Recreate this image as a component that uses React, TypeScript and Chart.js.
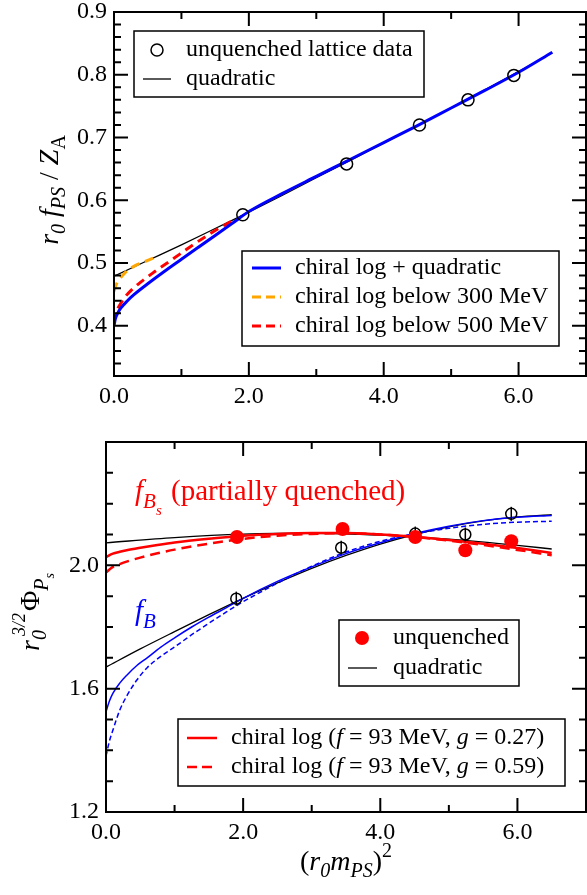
import React, { useEffect, useRef } from 'react';
import { Chart, registerables } from 'chart.js';
Chart.register(...registerables);

const FONT = '"Liberation Serif", "DejaVu Serif", serif';

// ---------- Top panel data ----------
const topTickX = [0, 2, 4, 6];
const topTickY = [0.4, 0.5, 0.6, 0.7, 0.8, 0.9];
const topPointsX = [1.91, 3.45, 4.53, 5.25, 5.93];
const topPointsY = [0.577, 0.658, 0.720, 0.760, 0.799];
const topBlueX = [0, 0.02, 0.05, 0.1, 0.2, 0.3, 0.5, 0.75, 1.0, 1.25, 1.5, 1.75, 2.0, 2.5, 3.0, 3.5, 4.0, 4.5, 5.0, 5.5, 6.0, 6.5];
const topBlueY = [0.400, 0.411, 0.419, 0.428, 0.440, 0.450, 0.467, 0.487, 0.506, 0.525, 0.544, 0.563, 0.582, 0.611, 0.638, 0.665, 0.692, 0.719, 0.747, 0.775, 0.804, 0.836];
const topQuadX = [0, 0.5, 1.0, 1.5, 2.0, 2.5, 3.0, 3.5, 4.0, 4.5, 5.0, 5.5, 6.0, 6.5];
const topQuadY = [0.479, 0.504, 0.529, 0.555, 0.581, 0.608, 0.636, 0.663, 0.691, 0.719, 0.747, 0.776, 0.805, 0.835];
const top300X = [0, 0.03, 0.08, 0.15, 0.25, 0.35, 0.45, 0.58];
const top300Y = [0.455, 0.465, 0.474, 0.483, 0.492, 0.498, 0.502, 0.508];
const top500X = [0, 0.03, 0.08, 0.15, 0.25, 0.4, 0.6, 0.8, 1.0, 1.2, 1.4, 1.6, 1.75];
const top500Y = [0.405, 0.421, 0.432, 0.444, 0.456, 0.470, 0.486, 0.501, 0.516, 0.531, 0.545, 0.558, 0.567];

// ---------- Bottom panel data ----------
const botTickX = [0, 2, 4, 6];
const botTickY = [1.2, 1.6, 2.0];
const botOpenX = [1.90, 3.43, 4.51, 5.24, 5.91];
const botOpenY = [1.892, 2.057, 2.103, 2.100, 2.167];
const botRedX = [1.91, 3.45, 4.51, 5.24, 5.91];
const botRedY = [2.092, 2.118, 2.092, 2.049, 2.078];
const botRedCurveX = [0, 0.1, 0.2, 0.3, 0.5, 0.75, 1.0, 1.5, 2.0, 2.5, 3.0, 3.5, 4.0, 4.5, 5.0, 5.5, 6.0, 6.5];
const botRedSolidY = [2.027, 2.038, 2.044, 2.049, 2.057, 2.066, 2.074, 2.086, 2.096, 2.102, 2.105, 2.105, 2.100, 2.093, 2.082, 2.070, 2.056, 2.040];
const botRedDashY = [1.977, 1.995, 2.004, 2.012, 2.025, 2.039, 2.051, 2.070, 2.086, 2.096, 2.102, 2.104, 2.100, 2.092, 2.080, 2.066, 2.050, 2.033];
const botQuadBsX = [0, 1, 2, 3, 4, 5, 6, 6.5];
const botQuadBsY = [2.073, 2.090, 2.101, 2.104, 2.098, 2.085, 2.065, 2.053];
const botQuadBX = [0, 0.5, 1.0, 1.5, 2.0, 2.5, 3.0, 3.5, 4.0, 4.5, 5.0, 5.5, 6.0, 6.5];
const botQuadBY = [1.670, 1.729, 1.785, 1.840, 1.893, 1.943, 1.990, 2.032, 2.069, 2.100, 2.125, 2.144, 2.157, 2.164];
const botBlueX = [0, 0.05, 0.1, 0.2, 0.3, 0.45, 0.6, 0.8, 1.0, 1.25, 1.5, 1.75, 2.0, 2.5, 3.0, 3.5, 4.0, 4.5, 5.0, 5.5, 6.0, 6.5];
const botBlueSolidY = [1.525, 1.560, 1.585, 1.618, 1.643, 1.675, 1.700, 1.735, 1.765, 1.800, 1.832, 1.862, 1.893, 1.948, 1.995, 2.038, 2.073, 2.103, 2.127, 2.145, 2.156, 2.162];
const botBlueDashY = [1.381, 1.430, 1.465, 1.530, 1.575, 1.628, 1.668, 1.705, 1.735, 1.775, 1.812, 1.848, 1.882, 1.942, 1.997, 2.043, 2.078, 2.102, 2.120, 2.133, 2.140, 2.143];

const zip = (xs: number[], ys: number[]) => xs.map((x, i) => ({ x, y: ys[i] }));

type Seg = { t: string; size: number; italic?: boolean; dy?: number; dx?: number; color?: string };

function segFont(s: Seg) {
  return `${s.italic ? 'italic ' : ''}${s.size}px ${FONT}`;
}
function richWidth(ctx: CanvasRenderingContext2D, segs: Seg[]) {
  let w = 0;
  for (const s of segs) {
    ctx.font = segFont(s);
    w += ctx.measureText(s.t).width + (s.dx || 0);
  }
  return w;
}
function drawRich(ctx: CanvasRenderingContext2D, segs: Seg[], x: number, y: number, align: 'left' | 'center', baseline: CanvasTextBaseline = 'alphabetic') {
  let cx = align === 'center' ? x - richWidth(ctx, segs) / 2 : x;
  ctx.textAlign = 'left';
  ctx.textBaseline = baseline;
  for (const s of segs) {
    ctx.font = segFont(s);
    ctx.fillStyle = s.color || '#000';
    cx += s.dx || 0;
    ctx.fillText(s.t, cx, y + (s.dy || 0));
    cx += ctx.measureText(s.t).width;
  }
}

type Marker =
  | { kind: 'circle'; x: number }
  | { kind: 'dot'; x: number; color: string }
  | { kind: 'line'; x1: number; x2: number; color: string; width: number; dash?: number[] };
type Row = { y: number; marker: Marker; textX: number; text: Seg[] };
type LegendBox = { l: number; t: number; r: number; b: number; rows: Row[] };

function drawLegend(ctx: CanvasRenderingContext2D, lg: LegendBox) {
  ctx.save();
  ctx.fillStyle = '#fff';
  ctx.fillRect(lg.l, lg.t, lg.r - lg.l, lg.b - lg.t);
  ctx.strokeStyle = '#000';
  ctx.lineWidth = 1.5;
  ctx.setLineDash([]);
  ctx.strokeRect(lg.l, lg.t, lg.r - lg.l, lg.b - lg.t);
  for (const row of lg.rows) {
    const m = row.marker;
    ctx.setLineDash([]);
    if (m.kind === 'circle') {
      ctx.beginPath();
      ctx.arc(m.x, row.y, 6, 0, Math.PI * 2);
      ctx.lineWidth = 1.5;
      ctx.strokeStyle = '#000';
      ctx.stroke();
    } else if (m.kind === 'dot') {
      ctx.beginPath();
      ctx.arc(m.x, row.y, 7, 0, Math.PI * 2);
      ctx.fillStyle = m.color;
      ctx.fill();
    } else {
      ctx.beginPath();
      ctx.setLineDash(m.dash || []);
      ctx.moveTo(m.x1, row.y);
      ctx.lineTo(m.x2, row.y);
      ctx.lineWidth = m.width;
      ctx.strokeStyle = m.color;
      ctx.stroke();
      ctx.setLineDash([]);
    }
    drawRich(ctx, row.text, row.textX, row.y, 'left', 'middle');
  }
  ctx.restore();
}

function drawFrame(chart: any, xMaj: number[], xMin: number[], yMaj: number[], yMin: number[]) {
  const { ctx, chartArea: a, scales } = chart;
  const xs = scales.x, ys = scales.y;
  ctx.save();
  ctx.setLineDash([]);
  ctx.strokeStyle = '#000';
  ctx.lineWidth = 2;
  ctx.beginPath();
  const tickX = (v: number, len: number) => {
    const p = xs.getPixelForValue(v);
    ctx.moveTo(p, a.bottom); ctx.lineTo(p, a.bottom - len);
    ctx.moveTo(p, a.top); ctx.lineTo(p, a.top + len);
  };
  const tickY = (v: number, len: number) => {
    const p = ys.getPixelForValue(v);
    ctx.moveTo(a.left, p); ctx.lineTo(a.left + len, p);
    ctx.moveTo(a.right, p); ctx.lineTo(a.right - len, p);
  };
  xMaj.forEach(v => tickX(v, 14));
  xMin.forEach(v => tickX(v, 7));
  yMaj.forEach(v => tickY(v, 14));
  yMin.forEach(v => tickY(v, 7));
  ctx.stroke();
  ctx.strokeRect(a.left, a.top, a.right - a.left, a.bottom - a.top);
  ctx.restore();
}

function axisCfg(min: number, max: number, ticks: number[], padding: number, fit: (s: any) => void) {
  return {
    type: 'linear' as const,
    min, max,
    grid: { display: false, drawTicks: false },
    border: { display: false },
    afterBuildTicks: (s: any) => { s.ticks = ticks.map(v => ({ value: v })); },
    afterFit: (s: any) => {
      fit(s);
      s.paddingLeft = 0; s.paddingRight = 0; s.paddingTop = 0; s.paddingBottom = 0;
    },
    ticks: {
      color: '#000',
      padding,
      font: { family: FONT, size: 24 },
      callback: (v: any) => Number(v).toFixed(1),
    },
  };
}

const curve = (data: any[], color: string, width: number, dash: number[] = [], order = 5) => ({
  data, showLine: true, borderColor: color, borderWidth: width, borderDash: dash,
  pointRadius: 0, fill: false, cubicInterpolationMode: 'monotone' as const, order,
});

const fB = 'f';
function topConfig(): any {
  const legend1: LegendBox = {
    l: 134, t: 31, r: 424, b: 97,
    rows: [
      { y: 50, marker: { kind: 'circle', x: 157 }, textX: 186, text: [{ t: 'unquenched lattice data', size: 24 }] },
      { y: 79, marker: { kind: 'line', x1: 143, x2: 171, color: '#000', width: 1.3 }, textX: 186, text: [{ t: 'quadratic', size: 24 }] },
    ],
  };
  const legend2: LegendBox = {
    l: 242, t: 251, r: 559, b: 346,
    rows: [
      { y: 268, marker: { kind: 'line', x1: 252, x2: 281, color: '#0000ff', width: 3 }, textX: 295, text: [{ t: 'chiral log + quadratic', size: 24 }] },
      { y: 297, marker: { kind: 'line', x1: 252, x2: 281, color: '#ffa500', width: 3, dash: [9, 5] }, textX: 295, text: [{ t: 'chiral log below 300 MeV', size: 24 }] },
      { y: 326, marker: { kind: 'line', x1: 252, x2: 281, color: '#ff0000', width: 3, dash: [9, 5] }, textX: 295, text: [{ t: 'chiral log below 500 MeV', size: 24 }] },
    ],
  };
  const yMin: number[] = [];
  for (let v = 34; v <= 90; v += 2) if (v % 10 !== 0) yMin.push(v / 100);
  const decor = {
    id: 'decorTop',
    afterDraw(chart: any) {
      drawFrame(chart, topTickX, [1, 3, 5], topTickY, yMin);
      const ctx = chart.ctx as CanvasRenderingContext2D;
      drawLegend(ctx, legend1);
      drawLegend(ctx, legend2);
      ctx.save();
      ctx.translate(58, 190);
      ctx.rotate(-Math.PI / 2);
      drawRich(ctx, [
        { t: 'r', size: 28, italic: true },
        { t: '0', size: 20, italic: true, dy: 7 },
        { t: ' ', size: 28 },
        { t: 'f', size: 28, italic: true },
        { t: 'PS', size: 20, italic: true, dy: 7 },
        { t: ' / ', size: 28 },
        { t: 'Z', size: 28, italic: true },
        { t: 'A', size: 20, dy: 7 },
      ], 0, 0, 'center');
      ctx.restore();
    },
  };
  return {
    type: 'scatter',
    data: {
      datasets: [
        {
          data: zip(topPointsX, topPointsY), pointStyle: 'circle', pointRadius: 6,
          pointBorderColor: '#000', pointBackgroundColor: 'rgba(0,0,0,0)', pointBorderWidth: 1.5, order: 0,
        },
        curve(zip(topBlueX, topBlueY), '#0000ff', 3, [], 1),
        curve(zip(top500X, top500Y), '#ff0000', 3, [9, 6], 2),
        curve(zip(top300X, top300Y), '#ffa500', 3, [9, 6], 3),
        curve(zip(topQuadX, topQuadY), '#000000', 1.3, [], 4),
      ],
    },
    options: {
      animation: false,
      responsive: true,
      maintainAspectRatio: false,
      events: [],
      layout: { autoPadding: false, padding: { top: 12, right: 1, left: 0, bottom: 0 } },
      plugins: { legend: { display: false }, tooltip: { enabled: false } },
      scales: {
        x: { ...axisCfg(0, 7, topTickX, 6, (s: any) => { s.height = 44; }), position: 'bottom' },
        y: { ...axisCfg(0.32, 0.9, topTickY, 7, (s: any) => { s.width = 114; }), position: 'left' },
      },
    },
    plugins: [decor],
  };
}

function botConfig(): any {
  const legend1: LegendBox = {
    l: 339, t: 200, r: 519, b: 266,
    rows: [
      { y: 218, marker: { kind: 'dot', x: 362, color: '#ff0000' }, textX: 393, text: [{ t: 'unquenched', size: 24 }] },
      { y: 248, marker: { kind: 'line', x1: 348, x2: 377, color: '#000', width: 1.3 }, textX: 393, text: [{ t: 'quadratic', size: 24 }] },
    ],
  };
  const lgText = (g: string): Seg[] => [
    { t: 'chiral log (', size: 24 },
    { t: 'f', size: 24, italic: true },
    { t: ' = 93 MeV, ', size: 24 },
    { t: 'g', size: 24, italic: true },
    { t: ' = ' + g + ')', size: 24 },
  ];
  const legend2: LegendBox = {
    l: 178, t: 299, r: 565, b: 366,
    rows: [
      { y: 318, marker: { kind: 'line', x1: 187, x2: 217, color: '#ff0000', width: 2.5 }, textX: 231, text: lgText('0.27') },
      { y: 347, marker: { kind: 'line', x1: 187, x2: 217, color: '#ff0000', width: 2.5, dash: [10, 5] }, textX: 231, text: lgText('0.59') },
    ],
  };
  const yMin = [1.3, 1.4, 1.5, 1.7, 1.8, 1.9, 2.1, 2.2, 2.3];
  const decor = {
    id: 'decorBot',
    afterDraw(chart: any) {
      drawFrame(chart, botTickX, [1, 3, 5], [1.2, 1.6, 2.0, 2.4], yMin);
      const ctx = chart.ctx as CanvasRenderingContext2D;
      drawLegend(ctx, legend1);
      drawLegend(ctx, legend2);
      drawRich(ctx, [
        { t: fB, size: 29, italic: true, color: '#ff0000' },
        { t: 'B', size: 21, italic: true, dy: 8, color: '#ff0000' },
        { t: 's', size: 15, italic: true, dy: 15, color: '#ff0000' },
        { t: ' (partially quenched)', size: 29, color: '#ff0000', dx: 2 },
      ], 135, 80, 'left');
      drawRich(ctx, [
        { t: fB, size: 29, italic: true, color: '#0000ff' },
        { t: 'B', size: 21, italic: true, dy: 8, color: '#0000ff' },
      ], 135, 200, 'left');
      ctx.save();
      ctx.translate(39, 192);
      ctx.rotate(-Math.PI / 2);
      drawRich(ctx, [
        { t: 'r', size: 28, italic: true },
        { t: '0', size: 20, italic: true, dy: 7 },
        { t: '3/2', size: 18, italic: true, dy: -14, dx: -6 },
        { t: 'Φ', size: 28, dx: 2 },
        { t: 'P', size: 20, italic: true, dy: 9 },
        { t: 's', size: 14, italic: true, dy: 15 },
      ], 0, 0, 'center');
      ctx.restore();
      drawRich(ctx, [
        { t: '(', size: 28 },
        { t: 'r', size: 28, italic: true },
        { t: '0', size: 20, italic: true, dy: 7 },
        { t: 'm', size: 28, italic: true },
        { t: 'PS', size: 20, italic: true, dy: 7 },
        { t: ')', size: 28 },
        { t: '2', size: 20, dy: -13 },
      ], 346, 450, 'center');
    },
  };
  return {
    type: 'scatter',
    data: {
      datasets: [
        {
          data: zip(botRedX, botRedY), pointStyle: 'circle', pointRadius: 7,
          pointBorderWidth: 0, pointBackgroundColor: '#ff0000', pointBorderColor: '#ff0000', order: 0,
        },
        {
          data: zip(botOpenX, botOpenY), pointStyle: 'circle', pointRadius: 5.5,
          pointBorderColor: '#000', pointBackgroundColor: 'rgba(0,0,0,0)', pointBorderWidth: 1.5, order: 1,
        },
        {
          data: zip(botOpenX, botOpenY), pointStyle: 'line', pointRotation: 90, pointRadius: 7,
          pointBorderColor: '#000', pointBorderWidth: 1.5, order: 1,
        },
        curve(zip(botRedCurveX, botRedSolidY), '#ff0000', 2.5, [], 2),
        curve(zip(botRedCurveX, botRedDashY), '#ff0000', 2.5, [10, 6], 3),
        curve(zip(botBlueX, botBlueSolidY), '#0000ff', 1.5, [], 3),
        curve(zip(botBlueX, botBlueDashY), '#0000ff', 1.5, [5, 3], 3),
        curve(zip(botQuadBsX, botQuadBsY), '#000000', 1.3, [], 4),
        curve(zip(botQuadBX, botQuadBY), '#000000', 1.3, [], 4),
      ],
    },
    options: {
      animation: false,
      responsive: true,
      maintainAspectRatio: false,
      events: [],
      layout: { autoPadding: false, padding: { top: 22, right: 1, left: 0, bottom: 0 } },
      plugins: { legend: { display: false }, tooltip: { enabled: false } },
      scales: {
        x: { ...axisCfg(0, 7, botTickX, 6, (s: any) => { s.height = 83; }), position: 'bottom' },
        y: { ...axisCfg(1.2, 2.4, botTickY, 7, (s: any) => { s.width = 106; }), position: 'left' },
      },
    },
    plugins: [decor],
  };
}

export default function App() {
  const topRef = useRef<HTMLCanvasElement>(null);
  const botRef = useRef<HTMLCanvasElement>(null);
  useEffect(() => {
    const c1 = new Chart(topRef.current!, topConfig());
    const c2 = new Chart(botRef.current!, botConfig());
    return () => { c1.destroy(); c2.destroy(); };
  }, []);
  return (
    <div style={{ position: 'absolute', left: 0, top: 0, width: 587, height: 895, background: '#fff' }}>
      <div style={{ position: 'absolute', left: 0, top: 0, width: 587, height: 420 }}>
        <canvas ref={topRef} />
      </div>
      <div style={{ position: 'absolute', left: 0, top: 420, width: 587, height: 475 }}>
        <canvas ref={botRef} />
      </div>
    </div>
  );
}
